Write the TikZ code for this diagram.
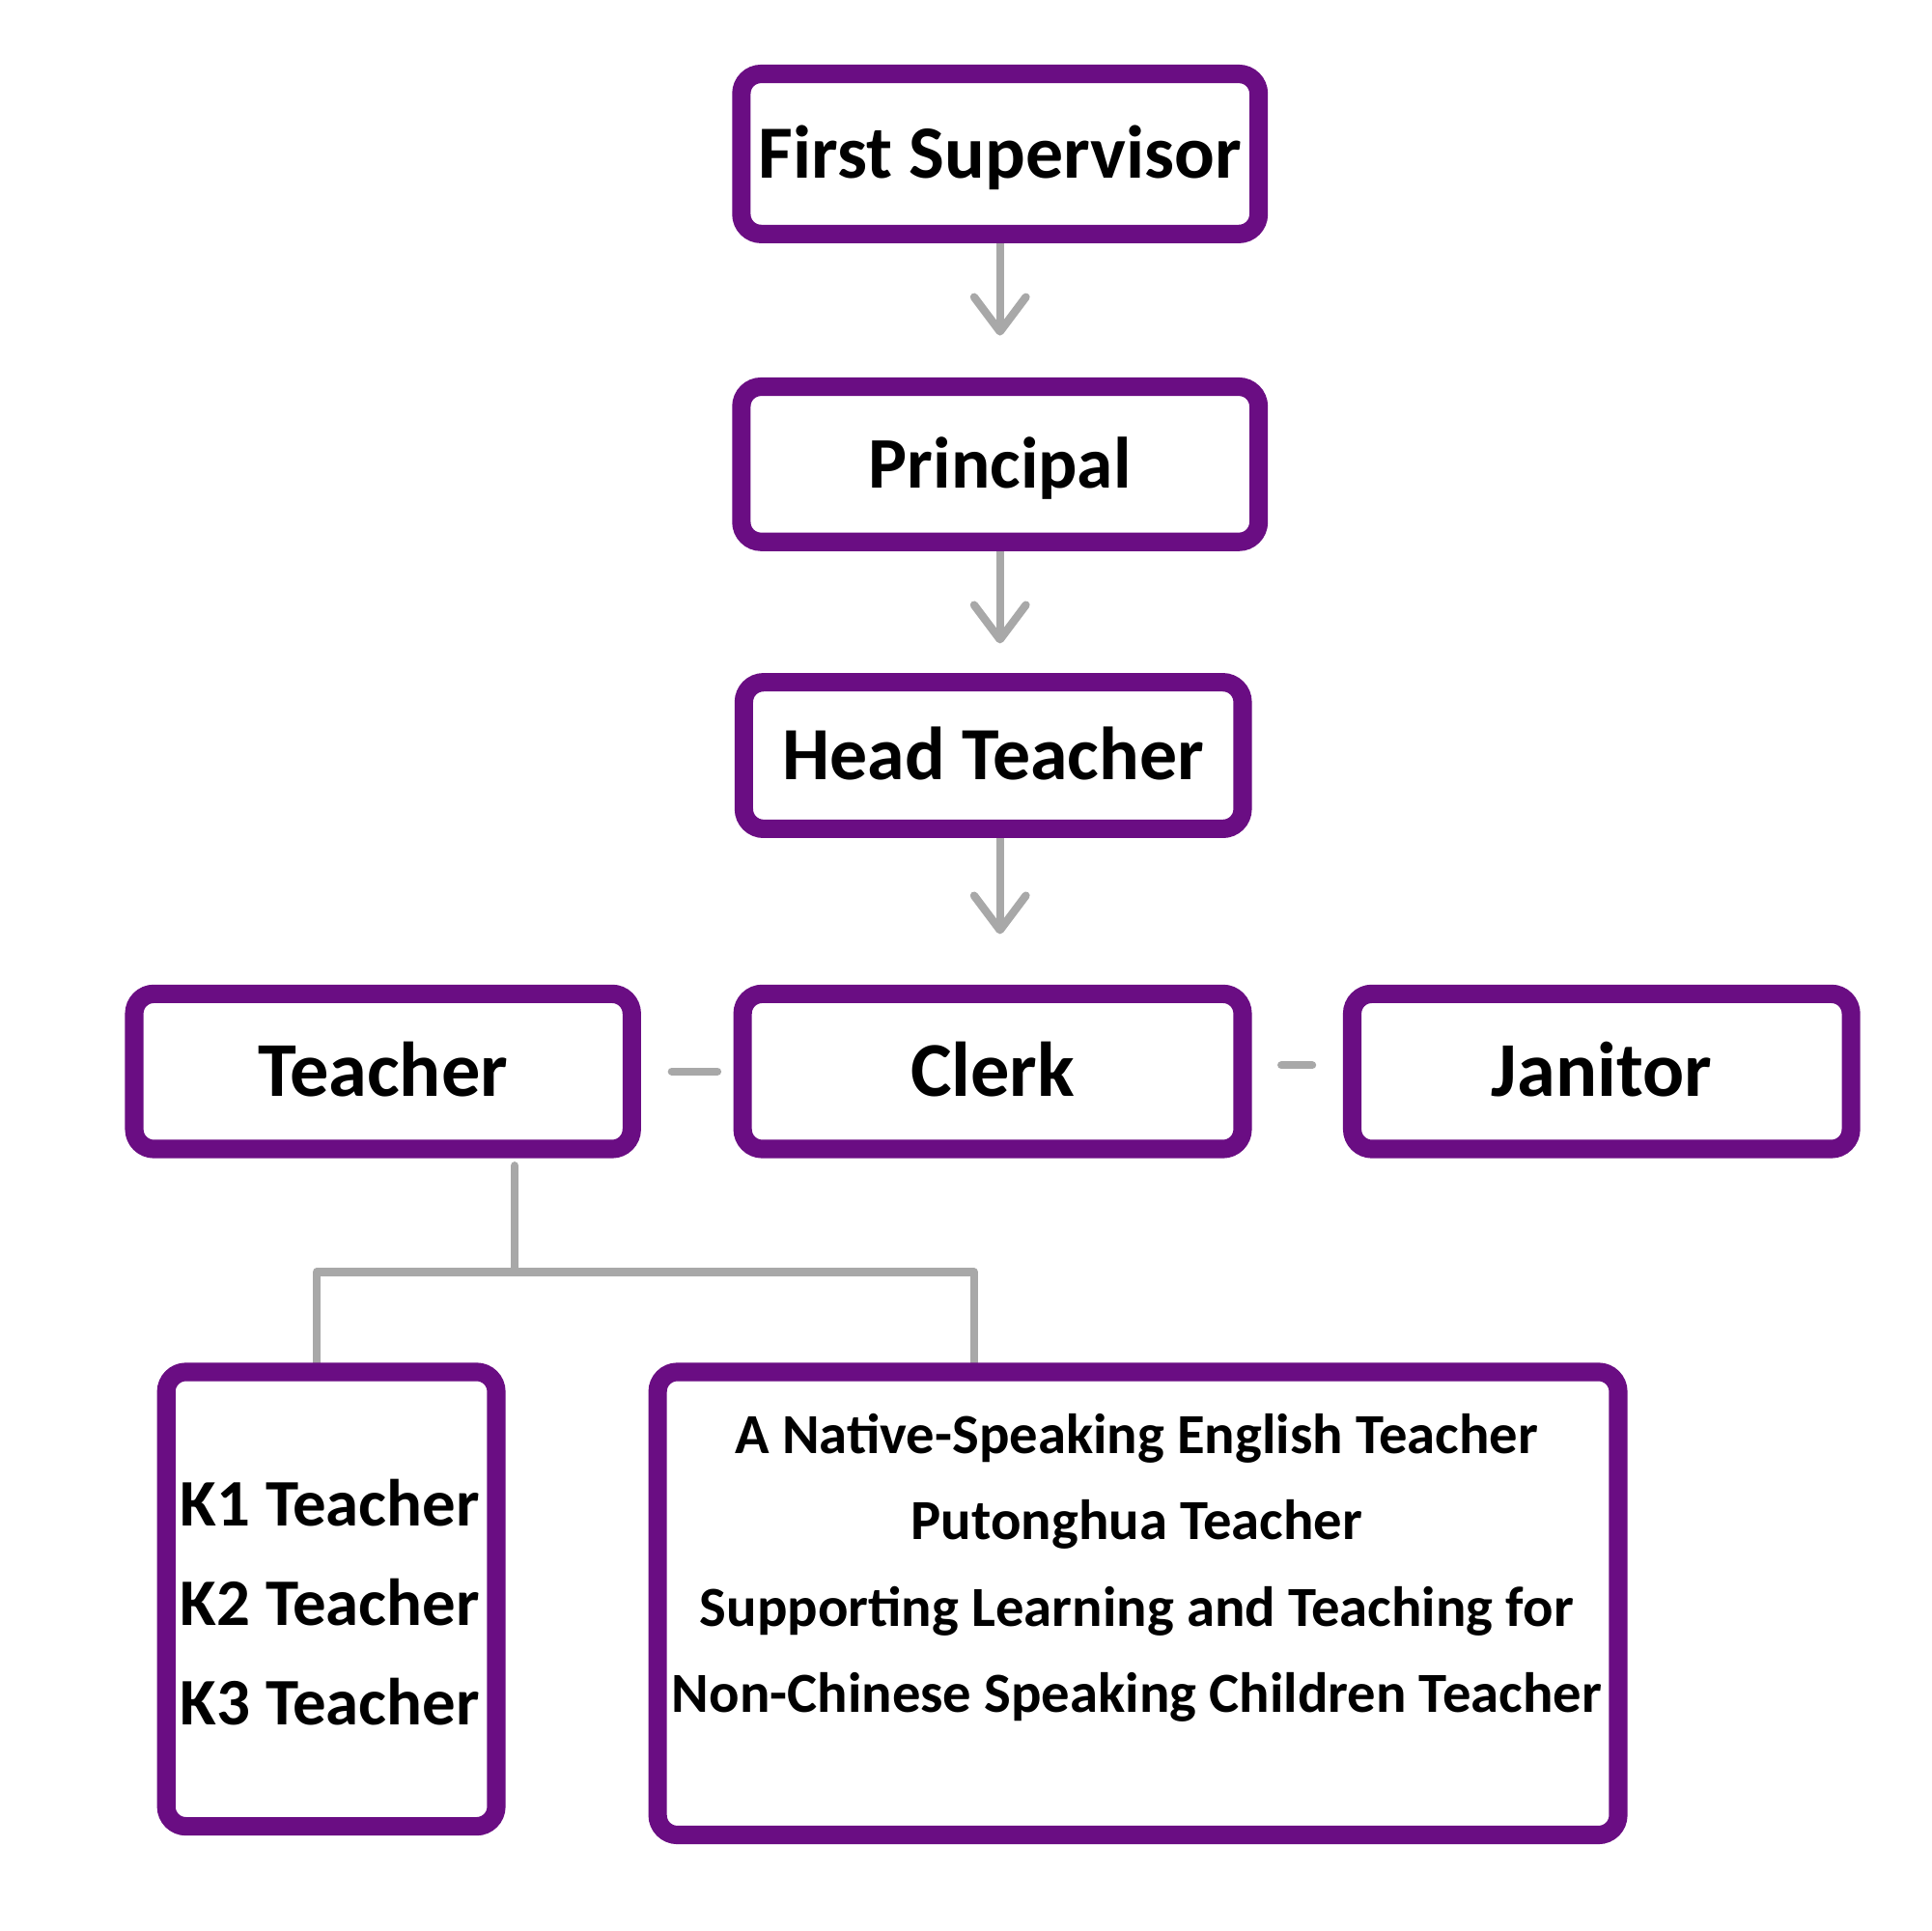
\documentclass[tikz,border=0pt]{standalone}
\usepackage{fontspec}
\newfontfamily\orgfont{Carlito}
\usetikzlibrary{arrows.meta,backgrounds,calc}
\definecolor{boxpurple}{HTML}{6A0D83}
\definecolor{conngray}{HTML}{A8A8A8}
\tikzset{
  orgbox/.style={draw=boxpurple, line width=15pt, rounded corners=16pt, fill=white,
    inner sep=0pt, text depth=0pt},
  fsz/.style args={#1/#2}{font=\orgfont\bfseries\fontsize{#1}{#1}\selectfont, text height=#2pt},
  conn/.style={draw=conngray, line width=6.5pt, line cap=round, line join=round},
  arr/.style={conn, -{Straight Barb[length=28pt,width=42pt,line width=6.5pt,round]}},
  smalltext/.style={inner sep=0pt, align=center, font=\orgfont\bfseries\fontsize{46}{70}\selectfont},
  ktext/.style={inner sep=0pt, align=center, font=\orgfont\bfseries\fontsize{54}{81}\selectfont},
}
\begin{document}
\begin{tikzpicture}[x=1pt,y=-1pt]
\useasboundingbox (0,0) rectangle (1568,1568);
\node[orgbox, fsz=61/39.3, minimum width=420pt, minimum height=130pt] (fs) at (812,125) {First Supervisor};
\node[orgbox, fsz=59/38, minimum width=420pt, minimum height=126pt] (pr) at (812,377) {Principal};
\node[orgbox, fsz=61/39.3, minimum width=405pt, minimum height=119pt] (ht) at (806.5,613.5) {Head Teacher};
\node[orgbox, fsz=63/40.6, minimum width=404pt, minimum height=126pt] (te) at (311,870) {Teacher};
\node[orgbox, fsz=63/40.6, minimum width=406pt, minimum height=126pt] (cl) at (806,870) {Clerk};
\node[orgbox, fsz=63/40.6, minimum width=405pt, minimum height=126pt] (ja) at (1300.5,870) {Janitor};
\node[orgbox, minimum width=268pt, minimum height=369pt] (kb) at (269,1298.5) {};
\node[orgbox, minimum width=780pt, minimum height=376pt] (bb) at (924,1302) {};
\node[ktext] (kt) at (268,1301) {K1 Teacher\\K2 Teacher\\K3 Teacher};
\node[smalltext] (bt) at (923,1273) {A Native-Speaking English Teacher\\Putonghua Teacher\\Supporting Learning and Teaching for\\Non-Chinese Speaking Children Teacher};
\coordinate (tj) at (418,1033);
\coordinate (lj) at (257,1033);
\coordinate (rj) at (791,1033);
\begin{scope}[on background layer]
\draw[arr, shorten >=34pt] (fs.south) -- (pr.north);
\draw[arr, shorten >=24pt] (pr.south) -- (pr.south |- ht.north);
\draw[arr, shorten >=41pt] (fs.south |- ht.south) -- (fs.south |- cl.north);
\draw[conn, shorten <=25pt, shorten >=13pt] (te.east) -- (cl.west);
\draw[conn, shorten <=24pt, shorten >=25pt] ([yshift=5pt]cl.east) -- ([yshift=5pt]ja.west);
\draw[conn, shorten <=6pt] (tj |- te.south) -- (tj);
\draw[conn] (lj |- kb.north) -- (lj) -- (rj) -- (rj |- bb.north);
\end{scope}
\end{tikzpicture}
\end{document}
